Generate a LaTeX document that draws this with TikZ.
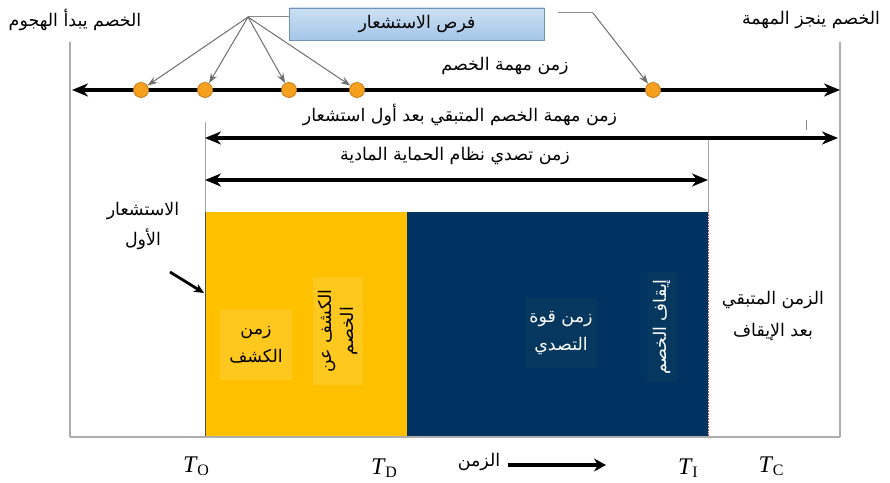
\documentclass[tikz,border=0pt]{standalone}
\usepackage{fontspec}
\setmainfont{Liberation Serif}
\newfontfamily\arfont[Script=Arabic]{DejaVu Sans}
\TeXXeTstate=1
\usetikzlibrary{arrows.meta}
\newcommand{\artx}[1]{{\arfont\beginR #1\endR}}
\newcommand{\tlab}[2]{\textit{T}\kern-0.5pt\raisebox{-3.5pt}{\fontsize{16}{16}\selectfont #2}}
\definecolor{dotorange}{HTML}{F5A01E}
\definecolor{dotedge}{HTML}{C87A10}
\definecolor{detyellow}{HTML}{FFC000}
\definecolor{detinner}{HTML}{FFC81E}
\definecolor{navy}{HTML}{003361}
\definecolor{navyinner}{HTML}{06385F}
\definecolor{boxblue}{HTML}{A3C6E8}
\definecolor{boxedge}{HTML}{6F93B8}
\definecolor{guidegray}{HTML}{8A8A8A}
\begin{document}
\begin{tikzpicture}[x=1bp,y=-1bp,
  lab/.style={font=\fontsize{17.5}{30}\selectfont, inner sep=1pt, align=center},
  vline/.style={draw=guidegray!70, line width=1.3pt},
  thinv/.style={draw=guidegray!80, line width=0.6pt},
  span/.style={line width=3.3pt, {Stealth[length=16pt,width=13pt,inset=5pt]}-{Stealth[length=16pt,width=13pt,inset=5pt]}},
  dot/.style={circle, fill=dotorange, draw=dotedge, line width=0.8pt, minimum size=15pt, inner sep=0pt},
  ptr/.style={draw=guidegray!80!black, line width=1pt, -{Stealth[length=10pt,width=7pt]}},
  guide/.style={draw=guidegray, line width=1pt},
  oppbox/.style={draw=boxedge, line width=0.8pt, top color=boxblue!55, bottom color=boxblue, minimum width=255bp, minimum height=32bp, font=\fontsize{17.5}{20}\selectfont},
  inbox/.style={inner sep=0pt, align=center},
  tl/.style={font=\fontsize{24}{24}\selectfont, inner sep=0pt}
]
\useasboundingbox (0,0) rectangle (890,483);

% frame lines
\coordinate (lt) at (70,42); \coordinate (lb) at (70,437);
\coordinate (rt) at (840,42); \coordinate (rb) at (840,437);
\draw[vline] (lt) -- (lb);
\draw[vline] (rt) -- (rb);

% blocks
\fill[detyellow] (205,212) rectangle (407,437);
\fill[navy] (407,212) rectangle (708,437);
\draw[black!70, line width=0.6pt] (205,212) -- (205,437);
\draw[red!40!gray, line width=0.6pt, densely dotted] (708,212) -- (708,437);
\draw[vline] (lb) -- (rb);

% vertical guides
\coordinate (g1t) at (205,122); \coordinate (g1b) at (205,212);
\coordinate (g2t) at (708,140); \coordinate (g2b) at (708,212);
\draw[thinv] (g1t) -- (g1b);
\draw[thinv] (g2t) -- (g2b);

% top labels
\node[lab] (start) at (75,20) {\artx{الخصم يبدأ الهجوم}};
\node[lab] (done) at (811,20) {\artx{الخصم ينجز المهمة}};

% sensing opportunities box
\node[oppbox] (opp) at (417,24) {\artx{فرص الاستشعار}};

% main timeline
\coordinate (m1) at (72,90); \coordinate (m2) at (840,90);
\draw[span] (m1) -- (m2);
\node[dot] (d1) at (141,90) {};
\node[dot] (d2) at (205,90) {};
\node[dot] (d3) at (289,90) {};
\node[dot] (d4) at (357,90) {};
\node[dot] (d5) at (653,90) {};
\node[lab] (tmis) at (505,66) {\artx{زمن مهمة الخصم}};

% pointers
\coordinate (hubL) at (248,17);
\draw[guide] (opp.west |- hubL) -- (hubL);
\draw[ptr] (hubL) -- (d1);
\draw[ptr] (hubL) -- (d2);
\draw[ptr] (hubL) -- (d3);
\draw[ptr] (hubL) -- (d4);
\coordinate (hubRs) at (558,13); \coordinate (hubR) at (593,13);
\draw[guide] (hubRs) -- (hubR);
\draw[ptr] (hubR) -- (d5);

% second span
\coordinate (s1) at (205,138); \coordinate (s2) at (838,138);
\draw[span] (s1) -- (s2);
\node[lab] (trem) at (460,115) {\artx{زمن مهمة الخصم المتبقي بعد أول استشعار}};
\coordinate (tk1) at (806,120); \coordinate (tk2) at (806,130);
\draw[guidegray, line width=0.7pt] (tk1) -- (tk2);

% third span
\coordinate (r1) at (205,180); \coordinate (r2) at (708,180);
\draw[span] (r1) -- (r2);
\node[lab] (tresp) at (455,156) {\artx{زمن تصدي نظام الحماية المادية}};

% first sensing
\node[lab] (first) at (143,226) {\artx{الاستشعار}\\\artx{الأول}};
\coordinate (fa1) at (170,272); \coordinate (fa2) at (204,293);
\draw[line width=2.8pt, -{Stealth[length=10pt,width=9pt]}] (fa1) -- (fa2);

% inner boxes
\node[inbox, fill=detinner, minimum width=72bp, minimum height=70bp, font=\fontsize{17.5}{28}\selectfont] (det) at (256,345) {\artx{زمن}\\\artx{الكشف}};
\node[inbox, fill=detinner, rotate=90, minimum width=107bp, minimum height=50bp, font=\fontsize{17.5}{23}\selectfont] (detect) at (338,331) {\artx{الكشف عن}\\\artx{الخصم}};
\node[inbox, fill=navyinner, text=white, minimum width=72bp, minimum height=70bp, font=\fontsize{17.5}{28}\selectfont] (resp) at (561,333) {\artx{زمن قوة}\\\artx{التصدي}};
\node[inbox, fill=navyinner, text=white, rotate=90, minimum width=109bp, minimum height=30bp, font=\fontsize{17.5}{20}\selectfont] (stop) at (662,327) {\artx{إيقاف الخصم}};

% after interruption
\node[lab, font=\fontsize{17.5}{32}\selectfont] (after) at (773,316) {\artx{الزمن المتبقي}\\\artx{بعد الإيقاف}};

% time axis labels
\node[tl] (TO) at (196,466) {\tlab{T}{O}};
\node[tl] (TD) at (384,468) {\tlab{T}{D}};
\node[tl] (TI) at (688,468) {\tlab{T}{I}};
\node[tl] (TC) at (771,466) {\tlab{T}{C}};
\node[lab] (time) at (479,462) {\artx{الزمن}};
\coordinate (ta1) at (508,465); \coordinate (ta2) at (606,465);
\draw[line width=5pt, -{Stealth[length=12pt,width=13pt]}] (ta1) -- (ta2);
\end{tikzpicture}
\end{document}
